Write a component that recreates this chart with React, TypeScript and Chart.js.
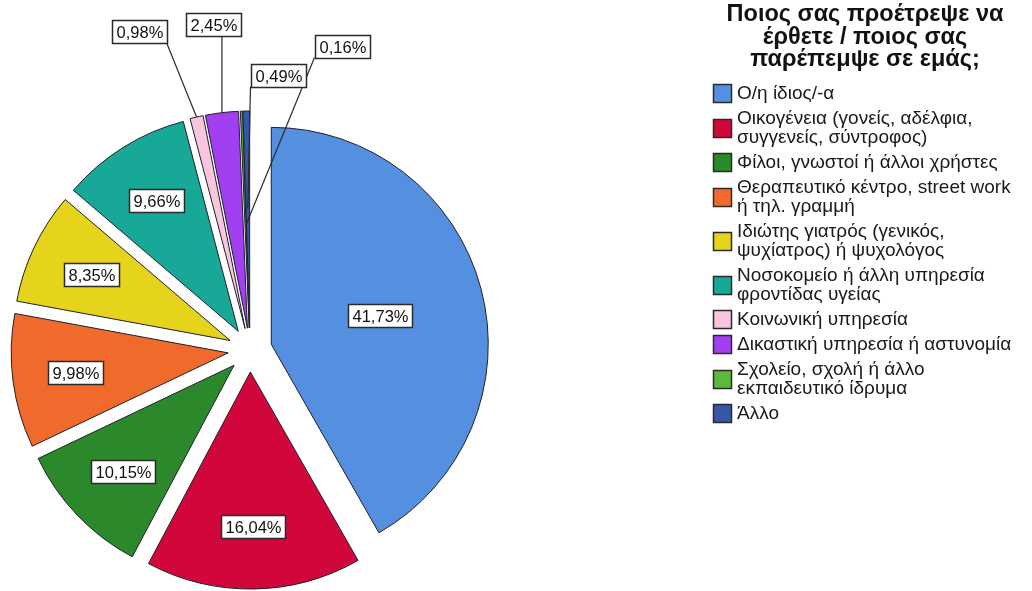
import React, { useEffect, useRef } from "react";
import { Chart, registerables } from "chart.js";

Chart.register(...registerables);

// ---- data ----
const categories: string[][] = [
  ["Ο/η ίδιος/-α"],
  ["Οικογένεια (γονείς, αδέλφια,", "συγγενείς, σύντροφος)"],
  ["Φίλοι, γνωστοί ή άλλοι χρήστες"],
  ["Θεραπευτικό κέντρο, street work", "ή τηλ. γραμμή"],
  ["Ιδιώτης γιατρός (γενικός,", "ψυχίατρος) ή ψυχολόγος"],
  ["Νοσοκομείο ή άλλη υπηρεσία", "φροντίδας υγείας"],
  ["Κοινωνική υπηρεσία"],
  ["Δικαστική υπηρεσία ή αστυνομία"],
  ["Σχολείο, σχολή ή άλλο", "εκπαιδευτικό ίδρυμα"],
  ["Άλλο"],
];
const percentages: number[] = [41.73, 16.04, 10.15, 9.98, 8.35, 9.66, 0.98, 2.45, 0.16, 0.49];
const sliceColors: string[] = [
  "#558fdf", "#d1073b", "#2b892b", "#f06a2b", "#e5d31c",
  "#17a897", "#f9c5df", "#a23ff0", "#5db83b", "#3557a6",
];
const legendTitle: string[] = ["Ποιος σας προέτρεψε να", "έρθετε / ποιος σας", "παρέπεμψε σε εμάς;"];

// ---- layout / style ----
const FONT = "'Liberation Sans', Arial, sans-serif";
const EXPLODE = 22;
const RADIUS = 217;
// leader-line labels for the thin slices: box offset from pie centre, and how far along the slice the line reaches
const LEADERS: Record<number, { dx: number; dy: number; reach: number }> = {
  6: { dx: -111, dy: -319, reach: 1.0 },
  7: { dx: -37, dy: -326, reach: 1.0 },
  8: { dx: 92, dy: -304, reach: 0.47 },
  9: { dx: 28, dy: -275, reach: 0.55 },
};

const explodePlugin = {
  id: "explodeAll",
  afterDatasetsUpdate(chart: any) {
    const { left, right, top, bottom } = chart.chartArea;
    const cx = (left + right) / 2;
    const cy = (top + bottom) / 2;
    chart.getDatasetMeta(0).data.forEach((el: any) => {
      const mid = (el.startAngle + el.endAngle) / 2;
      el.x = cx + Math.cos(mid) * EXPLODE;
      el.y = cy + Math.sin(mid) * EXPLODE;
    });
  },
};

const fmt = (v: number) => v.toFixed(2).replace(".", ",") + "%";

const labelPlugin = {
  id: "pctLabels",
  afterDatasetsDraw(chart: any) {
    const ctx: CanvasRenderingContext2D = chart.ctx;
    const { left, right, top, bottom } = chart.chartArea;
    const cx = (left + right) / 2;
    const cy = (top + bottom) / 2;
    const meta = chart.getDatasetMeta(0);
    const total = (chart.data.datasets[0].data as number[]).reduce((a, b) => a + b, 0);
    ctx.save();
    ctx.font = `16.5px ${FONT}`;
    ctx.textAlign = "center";
    ctx.textBaseline = "middle";
    meta.data.forEach((el: any, i: number) => {
      const v = chart.data.datasets[0].data[i] as number;
      const pct = (v / total) * 100;
      const text = fmt(v);
      const mid = (el.startAngle + el.endAngle) / 2;
      const R = el.outerRadius;
      const tw = ctx.measureText(text).width;
      const bw = Math.round(tw + 8);
      const bh = 23;
      let bx: number;
      let by: number;
      const lead = LEADERS[i];
      if (lead) {
        bx = cx + lead.dx;
        by = cy + lead.dy;
        const tx = el.x + Math.cos(mid) * R * lead.reach;
        const ty = el.y + Math.sin(mid) * R * lead.reach;
        const sx = Math.min(Math.max(tx, bx - bw / 2), bx + bw / 2);
        const sy = by + bh / 2;
        ctx.beginPath();
        ctx.moveTo(sx, sy);
        ctx.lineTo(tx, ty);
        ctx.strokeStyle = "#2a2a2a";
        ctx.lineWidth = 1.2;
        ctx.stroke();
      } else {
        const f = pct > 30 ? 0.52 : 0.71;
        bx = el.x + Math.cos(mid) * R * f;
        by = el.y + Math.sin(mid) * R * f;
      }
      const x0 = Math.round(bx - bw / 2) + 0.5;
      const y0 = Math.round(by - bh / 2) + 0.5;
      ctx.fillStyle = "#ffffff";
      ctx.fillRect(x0, y0, bw, bh);
      ctx.strokeStyle = "#2a2a2a";
      ctx.lineWidth = 1.5;
      ctx.strokeRect(x0, y0, bw, bh);
      ctx.fillStyle = "#111111";
      ctx.fillText(text, x0 + bw / 2, y0 + bh / 2 + 1);
    });
    ctx.restore();
  },
};

const legendPlugin = {
  id: "sideLegend",
  afterDraw(chart: any) {
    const ctx: CanvasRenderingContext2D = chart.ctx;
    ctx.save();
    // title
    ctx.fillStyle = "#111111";
    ctx.textAlign = "center";
    ctx.textBaseline = "alphabetic";
    ctx.font = `bold 23.5px ${FONT}`;
    const titleX = 865;
    legendTitle.forEach((line, k) => {
      ctx.fillText(line, titleX, 21 + k * 22.5);
    });
    // items
    const swX = 713;
    const sw = 18;
    const textX = 737;
    const lineH = 19;
    const gap = 6;
    let y = 80.5;
    ctx.font = `19px ${FONT}`;
    ctx.textAlign = "left";
    ctx.textBaseline = "middle";
    const labels = chart.data.labels as string[][];
    const bg = chart.data.datasets[0].backgroundColor as string[];
    labels.forEach((lines, i) => {
      const h = lines.length * lineH + gap;
      const centerY = y + h / 2;
      const sy = Math.round(centerY - sw / 2) + 0.5;
      ctx.fillStyle = bg[i];
      ctx.fillRect(swX + 0.5, sy, sw, sw);
      ctx.strokeStyle = "#2a2a2a";
      ctx.lineWidth = 1.5;
      ctx.strokeRect(swX + 0.5, sy, sw, sw);
      ctx.fillStyle = "#1a1a1a";
      const firstY = centerY - ((lines.length - 1) * lineH) / 2;
      lines.forEach((t, k) => ctx.fillText(t, textX, firstY + k * lineH + 1));
      y += h;
    });
    ctx.restore();
  },
};

export default function App() {
  const ref = useRef<HTMLCanvasElement>(null);
  useEffect(() => {
    if (!ref.current) return;
    const chart = new Chart(ref.current, {
      type: "pie",
      data: {
        labels: categories,
        datasets: [
          {
            data: percentages,
            backgroundColor: sliceColors,
            borderColor: "#1f1f2a",
            borderWidth: 1,
            clip: false,
          } as any,
        ],
      },
      options: {
        responsive: false,
        animation: false,
        radius: RADIUS,
        layout: { padding: { left: 0, right: 532, top: 109, bottom: 0 } },
        plugins: {
          legend: { display: false },
          tooltip: { enabled: false },
        },
        events: [],
      } as any,
      plugins: [explodePlugin, labelPlugin, legendPlugin],
    });
    return () => chart.destroy();
  }, []);
  return (
    <div style={{ position: "absolute", left: 0, top: 0, width: 1032, height: 591, background: "#ffffff" }}>
      <canvas ref={ref} width={1032} height={591} style={{ display: "block" }} />
    </div>
  );
}
